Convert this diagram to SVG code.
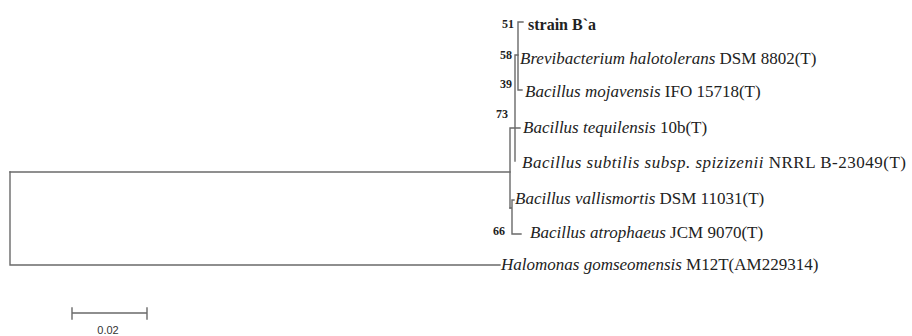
<svg xmlns="http://www.w3.org/2000/svg" width="912" height="336" viewBox="0 0 912 336">
<style>
.br{fill:none;stroke:#6a6a6a;stroke-width:1.4;stroke-linecap:square}
.lf{font-family:"Liberation Serif","Times New Roman",serif;font-size:17px;fill:#222}
.it{font-style:italic}
.bs{font-family:"Liberation Serif","Times New Roman",serif;font-size:12px;font-weight:bold;fill:#222;text-anchor:end}
.sc{font-family:"Liberation Sans",Arial,sans-serif;font-size:11px;fill:#333;text-anchor:middle}
</style>
<rect width="912" height="336" fill="#fff"/>
<g id="connectors">
<path class="br" d="M518,22 H523 M518,22 V90 H522"/>
<path class="br" d="M515,55 H518 M515,55 V161"/>
<path class="br" d="M510,128 H520 M510,128 V208"/>
<path class="br" d="M10,172 H510"/>
<path class="br" d="M10,172 V265 H500"/>
<path class="br" d="M510,208 H512 M512,200 V234 H521 M512,200 H514"/>
</g>
<g id="bootstrap">
<text class="bs" x="514" y="28">51</text>
<text class="bs" x="512" y="59">58</text>
<text class="bs" x="512" y="88">39</text>
<text class="bs" x="508" y="118">73</text>
<text class="bs" x="505" y="235">66</text>
</g>
<g id="n-strain"><text class="lf" x="528" y="30" style="font-weight:bold;font-size:16px">strain B`a</text></g>
<g id="n-brevibacterium"><text class="lf" x="520" y="64"><tspan class="it">Brevibacterium halotolerans</tspan> DSM 8802(T)</text></g>
<g id="n-mojavensis"><text class="lf" x="525" y="97"><tspan class="it">Bacillus mojavensis</tspan> IFO 15718(T)</text></g>
<g id="n-tequilensis"><text class="lf" x="523" y="133"><tspan class="it">Bacillus tequilensis</tspan> 10b(T)</text></g>
<g id="n-subtilis"><text class="lf" x="522" y="168" textLength="384" lengthAdjust="spacing"><tspan class="it">Bacillus subtilis subsp. spizizenii</tspan> NRRL B-23049(T)</text></g>
<g id="n-vallismortis"><text class="lf" x="515" y="204"><tspan class="it">Bacillus vallismortis</tspan> DSM 11031(T)</text></g>
<g id="n-atrophaeus"><text class="lf" x="530" y="238"><tspan class="it">Bacillus atrophaeus</tspan> JCM 9070(T)</text></g>
<g id="n-halomonas"><text class="lf" x="501" y="270"><tspan class="it">Halomonas gomseomensis</tspan> M12T(AM229314)</text></g>
<g id="scale">
<path class="br" d="M72,313 H147 M72,308 V319 M147,308 V319"/>
<text class="sc" x="108" y="334">0.02</text>
</g>
</svg>
